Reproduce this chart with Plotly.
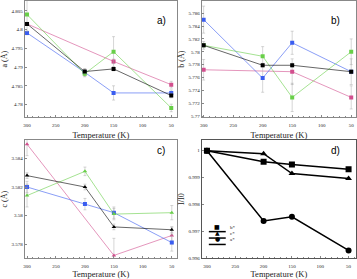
import plotly.graph_objects as go

temps = [300, 200, 150, 50]
temps_pink = [300, 150, 50]

# Panel a: lattice parameter a (Å)
a_green = [4.8040, 4.7882, 4.7941, 4.7791]
a_black = [4.8015, 4.7888, 4.7895, 4.7824]
a_pink = [4.8015, 4.7915, 4.7853]
a_blue = [4.7991, 4.7886, 4.7831, 4.7831]
a_green_err = [0.0045, 0.0008, 0.0040, 0.0010]
a_black_err = [0.0004, 0.0006, 0.0005, 0.0006]
a_pink_err = [0.0004, 0.0006, 0.0009]
a_blue_err = [0.0005, 0.0010, 0.0019, 0.0008]

# Panel b: lattice parameter b (Å)
b_blue = [5.7850, 5.7759, 5.7814, 5.7769]
b_black = [5.7810, 5.7779, 5.7779, 5.7769]
b_green = [5.7810, 5.7793, 5.7729, 5.7800]
b_pink = [5.7772, 5.7769, 5.7729]
b_blue_err = [0.0021, 0.0022, 0.0018, 0.0020]
b_black_err = [0.0003, 0.0003, 0.0003, 0.0003]
b_green_err = [0.0006, 0.0015, 0.0022, 0.0020]
b_pink_err = [0.0016, 0.0020, 0.0018]

# Panel c: lattice parameter c (Å)
c_pink = [3.5850, 3.5772, 3.5786]
c_black = [3.5828, 3.5820, 3.5792, 3.5790]
c_green = [3.5814, 3.5831, 3.5801, 3.5802]
c_blue = [3.5820, 3.5808, 3.5802, 3.5781]
c_pink_err = [0.0008, 0.0012, 0.0006]
c_black_err = [0.0002, 0.0002, 0.0002, 0.0002]
c_green_err = [0.0008, 0.0003, 0.0004, 0.0005]
c_blue_err = [0.0004, 0.0004, 0.0004, 0.0006]

# Panel d: normalised intensity I/I0
d_bstar = [1.0, 0.99959, 0.99949, 0.99931]
d_cstar = [1.0, 0.99989, 0.99915, 0.99897]
d_astar = [1.0, 0.99739, 0.99754, 0.99629]
d_names = ["b*", "c*", "a*"]

x_ticks = [300, 250, 200, 150, 100, 50]

GREEN = "#68cf48"
BLACK = "#000000"
PINK = "#d24f8e"
BLUE = "#3a5df0"
ERR = "rgba(160,160,160,0.55)"

fig = go.Figure()

def add_series(x, y, err, color, symbol, xa, ya):
    fig.add_trace(go.Scatter(
        x=x, y=y, mode="lines+markers",
        xaxis=xa, yaxis=ya, showlegend=False,
        line=dict(color=color, width=0.6),
        marker=dict(symbol=symbol, size=4, color=color),
        error_y=dict(type="data", array=err, visible=True,
                     color=ERR, thickness=0.8, width=1.5),
    ))

add_series(temps_pink, a_pink, a_pink_err, PINK, "square", "x", "y")
add_series(temps, a_blue, a_blue_err, BLUE, "square", "x", "y")
add_series(temps, a_green, a_green_err, GREEN, "square", "x", "y")
add_series(temps, a_black, a_black_err, BLACK, "square", "x", "y")

add_series(temps_pink, b_pink, b_pink_err, PINK, "square", "x2", "y2")
add_series(temps, b_blue, b_blue_err, BLUE, "square", "x2", "y2")
add_series(temps, b_green, b_green_err, GREEN, "square", "x2", "y2")
add_series(temps, b_black, b_black_err, BLACK, "square", "x2", "y2")

add_series(temps_pink, c_pink, c_pink_err, PINK, "triangle-up", "x3", "y3")
add_series(temps, c_blue, c_blue_err, BLUE, "square", "x3", "y3")
add_series(temps, c_green, c_green_err, GREEN, "triangle-up", "x3", "y3")
add_series(temps, c_black, c_black_err, BLACK, "triangle-up", "x3", "y3")

d_series = [(d_bstar, "square", "■"), (d_cstar, "triangle-up", "▲"), (d_astar, "circle", "●")]
for (y, sym, glyph), name in zip(d_series, d_names):
    fig.add_trace(go.Scatter(
        x=temps, y=y, mode="lines+markers", name=name,
        xaxis="x4", yaxis="y4", showlegend=False,
        line=dict(color="black", width=1.5),
        marker=dict(symbol=sym, size=6, color="black"),
    ))

tickfont = dict(family="Liberation Serif", size=5, color="#222")
titlefont = dict(family="Liberation Serif", size=8.5, color="#222")
axis_common = dict(showline=True, linecolor="#888", linewidth=1, mirror=True,
                   showgrid=False, zeroline=False, ticks="inside", ticklen=2,
                   tickcolor="#888", tickfont=tickfont)

xdoms = [[0.064, 0.493], [0.563, 0.997], [0.064, 0.493], [0.563, 0.997]]
ydoms = [[0.577, 1.0], [0.577, 1.0], [0.0645, 0.4946], [0.0645, 0.4946]]
xranges = [[304, 40], [303, 42], [304, 41], [309, 37]]
yranges = [[4.7766, 4.8076], [5.7698, 5.7879], [3.5770, 3.5853], [0.996, 1.0004]]
ytickvals = [
    [4.78, 4.785, 4.79, 4.795, 4.8, 4.805],
    [5.77, 5.772, 5.774, 5.776, 5.778, 5.78, 5.782, 5.784, 5.786, 5.788],
    [3.578, 3.58, 3.582, 3.584],
    [0.996, 0.997, 0.998, 0.999, 1.0],
]
ytitles = ["a (Å)", "b (Å)", "c (Å)", "I/I0"]

layout = {}
for i in range(4):
    sx = "xaxis" if i == 0 else f"xaxis{i+1}"
    sy = "yaxis" if i == 0 else f"yaxis{i+1}"
    xa = "x" if i == 0 else f"x{i+1}"
    ya = "y" if i == 0 else f"y{i+1}"
    layout[sx] = dict(axis_common, domain=xdoms[i], range=xranges[i], anchor=ya,
                      tickvals=x_ticks, ticktext=[str(t) for t in x_ticks],
                      ticklabelstandoff=3,
                      minor=dict(dtick=10, ticks="inside", ticklen=1, tickcolor="#888"),
                      title=dict(text="Temperature (K)", font=titlefont, standoff=4))
    yt = [str(v) if v != 1.0 else "1" for v in ytickvals[i]]
    layout[sy] = dict(axis_common, domain=ydoms[i], range=yranges[i], anchor=xa,
                      tickvals=ytickvals[i], ticktext=yt,
                      title=dict(text=ytitles[i], font=dict(family="Liberation Serif", size=8, color="#222"), standoff=2))
for k in ("xaxis4", "yaxis4"):
    layout[k]["linecolor"] = "#555"

fig.update_layout(**layout)

for txt, x, y in [("a)", 160, 12), ("b)", 342, 12), ("c)", 160, 152), ("d)", 342, 152)]:
    fig.add_annotation(text=txt, x=x / 357, y=1 - y / 279, xref="paper", yref="paper",
                       showarrow=False, font=dict(family="Liberation Sans", size=10, color="black"))

# compact legend for panel d, drawn as a key box
legend_rows = [234, 240.5, 247]
for (y, sym, glyph), name, ry in zip(d_series, d_names, legend_rows):
    yp = 1 - ry / 279
    fig.add_shape(type="line", xref="paper", yref="paper",
                  x0=208 / 357, x1=225 / 357, y0=yp, y1=yp,
                  line=dict(color="black", width=1.5))
    fig.add_annotation(text=glyph, x=216.5 / 357, y=yp, xref="paper", yref="paper",
                       showarrow=False, font=dict(family="DejaVu Sans", size=6, color="black"))
    fig.add_annotation(text=name, x=227 / 357, y=yp, xref="paper", yref="paper",
                       xanchor="left", showarrow=False,
                       font=dict(family="Liberation Serif", size=5, color="#222"))

fig.update_layout(
    width=357, height=279,
    margin=dict(l=0, r=0, t=0, b=0),
    paper_bgcolor="white", plot_bgcolor="white",
    showlegend=False,
)

fig.write_html("out.html")
